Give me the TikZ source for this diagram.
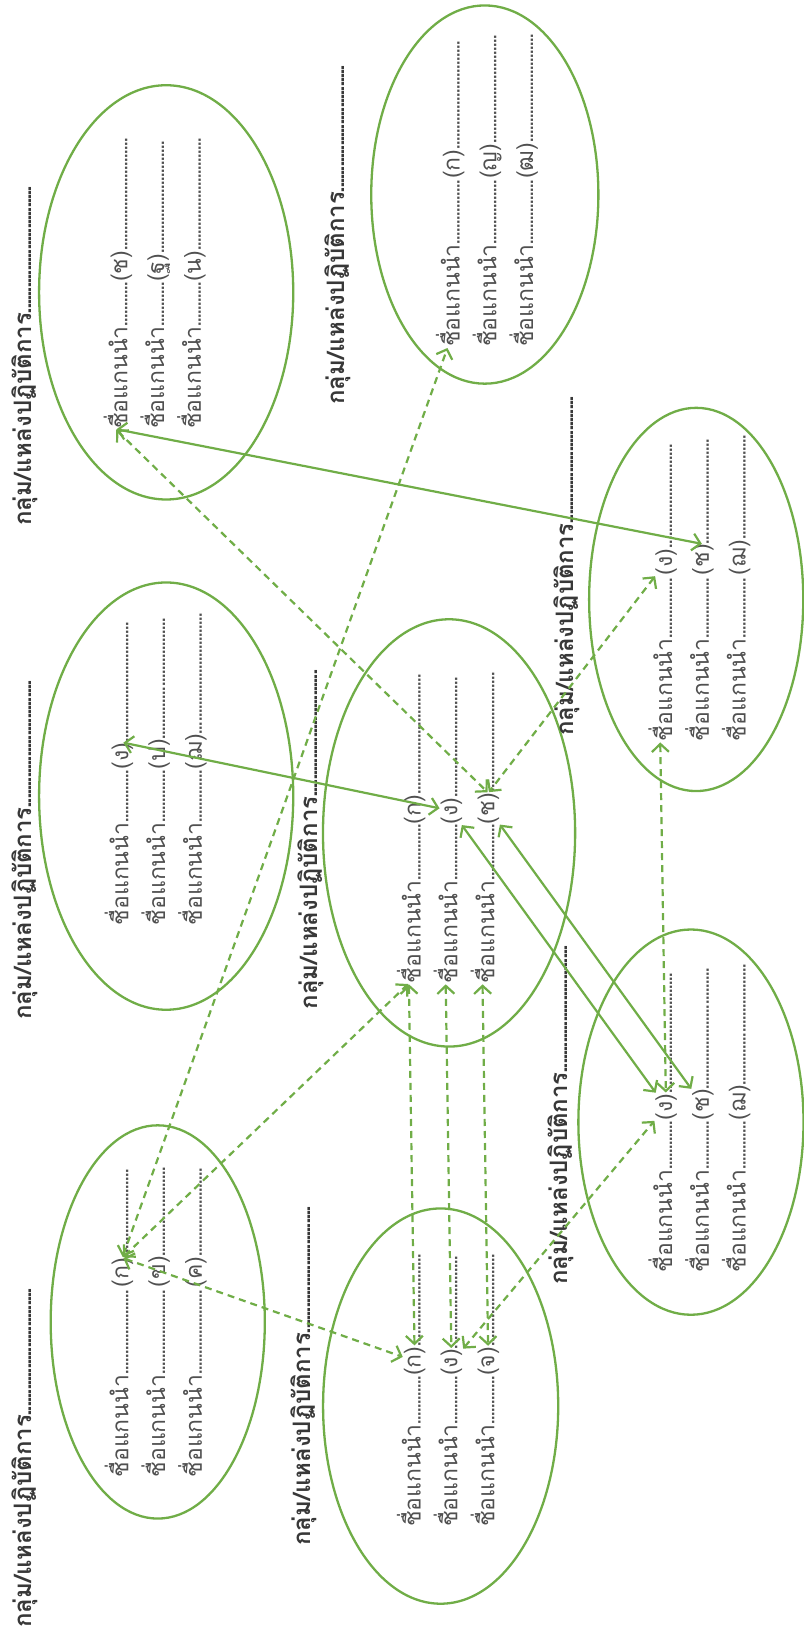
\documentclass[tikz,border=0pt]{standalone}
\usepackage{fontspec}
\usetikzlibrary{shapes.geometric,arrows.meta}
\newfontfamily\thaifont[Script=Thai]{Loma}
\definecolor{leafgreen}{RGB}{112,173,71}
\definecolor{inkgray}{RGB}{80,80,80}
% dotted leader of a given length
\newcommand{\dotrun}[2][4pt]{\hbox to #2{\leaders\hbox to #1{\hss.\hss}\hfill}}
% three rows of one group: name, first baseline x, start y, dots before, dots after, letters
\newcommand{\leaderrows}[6]{%
  \foreach \i/\l in {#6}{
    \node[rowtxt] (#1\i s) at ({#2+(\i-1)*35},#3) {ชื่อแกนนำ\dotrun{#4}};
    \node[rowtxt] (#1\i) at (#1\i s.base east) {(\l)};
    \node[rowtxt] (#1\i e) at (#1\i.base east) {\dotrun{#5}};
  }}
\tikzset{
  grp/.style={draw=leafgreen, line width=2.3pt, ellipse, inner sep=0pt},
  rowtxt/.style={rotate=90, anchor=base west, inner sep=0pt, text=inkgray,
    font=\thaifont\fontsize{23}{27}\selectfont},
  headtxt/.style={rotate=90, anchor=base west, inner sep=0pt, text=inkgray!70!black,
    font=\thaifont\bfseries\fontsize{24}{28}\selectfont},
  link/.style={leafgreen, line width=2.2pt, <->, shorten <=1pt, shorten >=1pt},
  dlink/.style={link, dash pattern=on 7pt off 5pt},
}
\begin{document}
\begin{tikzpicture}[x=1.051pt, y=-1.051pt, >={Straight Barb[length=8pt,width=17pt]}]
  \useasboundingbox (0,0) rectangle (764,1568);

  % Ellipses
  \node[grp, minimum width=214pt, minimum height=393pt] (ea) at (150,1257) {};
  \node[grp, minimum width=235pt, minimum height=395pt] (eb) at (419,1337) {};
  \node[grp, minimum width=225pt, minimum height=385pt] (ec) at (657,1067) {};
  \node[grp, minimum width=252pt, minimum height=427pt] (ed) at (427,792) {};
  \node[grp, minimum width=214pt, minimum height=383pt] (ee) at (662,570) {};
  \node[grp, minimum width=254pt, minimum height=427pt] (ef) at (158,757) {};
  \node[grp, minimum width=254pt, minimum height=414pt] (eg) at (158,278) {};
  \node[grp, minimum width=227pt, minimum height=378pt] (eh) at (461,185) {};

  % Headers
  \foreach \n/\x/\y in {a/30/1548, b/295/1470, c/540/1222, d/302/960,
                        e/545/700, f/30/970, g/30/500, h/328/385}{
    \node[headtxt] (h\n) at (\x,\y) {กลุ่ม/แหล่งปฏิบัติการ\dotrun[4.2pt]{130pt}};
  }

  % Rows
  \leaderrows{a}{122}{1405}{87pt}{88pt}{1/ก,2/ข,3/ค}
  \leaderrows{b}{400}{1452}{48pt}{93pt}{1/ก,2/ง,3/จ}
  \leaderrows{c}{639}{1210}{49pt}{121pt}{1/ง,2/ช,3/ฌ}
  \leaderrows{d}{400}{935}{56pt}{120pt}{1/ก,2/ง,3/ช}
  \leaderrows{e}{639}{705}{63pt}{107pt}{1/ง,2/ช,3/ฌ}
  \leaderrows{f}{122}{880}{53pt}{123pt}{1/ง,2/ป,3/ฌ}
  \leaderrows{g}{121}{408}{44pt}{114pt}{1/ช,2/ฐ,3/น}
  \leaderrows{h}{437}{330}{65pt}{111pt}{1/ก,2/ญ,3/ฒ}

  % Solid links
  \draw[link] (g1s.west) -- (e2.east);
  \draw[link] (f1.east) -- (d2);
  \draw[link] (d2) -- (c1);
  \draw[link] (d3) -- (c2);

  % Dashed links
  \draw[dlink] (a1.east) -- (h1s.west);
  \draw[dlink] (a1.east) -- (d1s.west);
  \draw[dlink] (a1.east) -- (b1);
  \draw[dlink] (g1s.west) -- (d3.east);
  \draw[dlink] (e1) -- (d3.east);
  \draw[dlink] (d1s.west) -- (b1);
  \draw[dlink] (d2s.west) -- (b2);
  \draw[dlink] (d3s.west) -- (b3);
  \draw[dlink] (e1s.west) -- (c1);
  \draw[dlink] (b2) -- (c1);
\end{tikzpicture}
\end{document}
